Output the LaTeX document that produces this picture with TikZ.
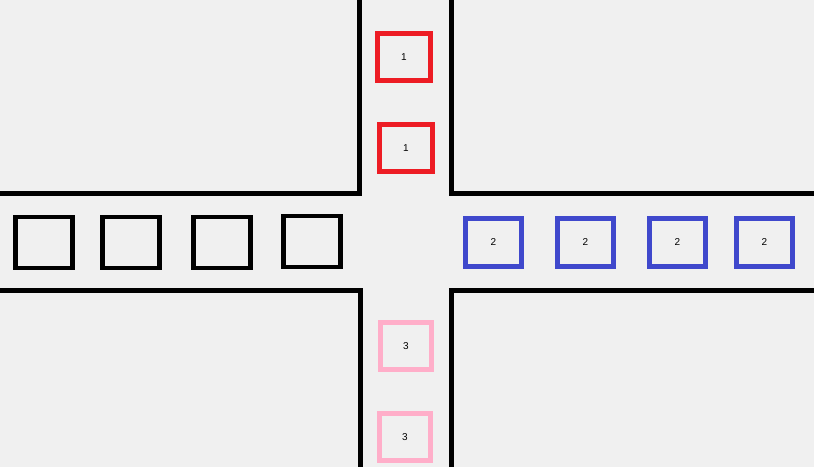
\documentclass[tikz,border=0pt]{standalone}
\usepackage{fontspec}
\setmainfont{Liberation Sans}
\definecolor{bg}{HTML}{F0F0F0}
\definecolor{carred}{HTML}{ED1C24}
\definecolor{carblue}{HTML}{3F48CC}
\definecolor{carpink}{HTML}{FFAEC9}
\begin{document}
\begin{tikzpicture}[x=1pt,y=-1pt,
  road/.style={line width=5pt,black},
  car/.style={draw,line width=5pt,inner sep=0pt,font=\fontsize{10}{12}\selectfont},
  carv/.style={car,minimum width=53pt,minimum height=47pt},
  carh/.style={car,minimum width=57pt,minimum height=51pt},
  carb/.style={car,minimum width=56pt,minimum height=48.5pt}]
\fill[bg] (0,0) rectangle (814,467);
\useasboundingbox (0,0) rectangle (814,467);
% roads
\draw[road] (0,193.5) -- (359.5,193.5) -- (359.5,0);
\draw[road] (451.5,0) -- (451.5,193.5) -- (814,193.5);
\draw[road] (0,290) -- (360,290) -- (360,467);
\draw[road] (451.5,467) -- (451.5,290) -- (814,290);
% red cars
\node[carv,draw=carred] (r1) at (404,57) {1};
\node[carv,draw=carred] (r2) at (406,148) {1};
% black cars
\node[carh,line width=4.7pt] (k1) at (44,242.4) {};
\node[carh,line width=4.7pt] (k2) at (131,242.4) {};
\node[carh,line width=4.7pt] (k3) at (222,242.4) {};
\node[carh,line width=4.7pt] (k4) at (312,241.5) {};
% blue cars
\node[carb,draw=carblue] (b1) at (493.5,242.3) {2};
\node[carb,draw=carblue] (b2) at (585.5,242.3) {2};
\node[carb,draw=carblue] (b3) at (677.5,242.3) {2};
\node[carb,draw=carblue] (b4) at (764.5,242.3) {2};
% pink cars
\node[carv,draw=carpink,minimum width=51pt] (p1) at (406,346) {3};
\node[carv,draw=carpink,minimum width=51pt] (p2) at (405,437) {3};
\end{tikzpicture}
\end{document}
